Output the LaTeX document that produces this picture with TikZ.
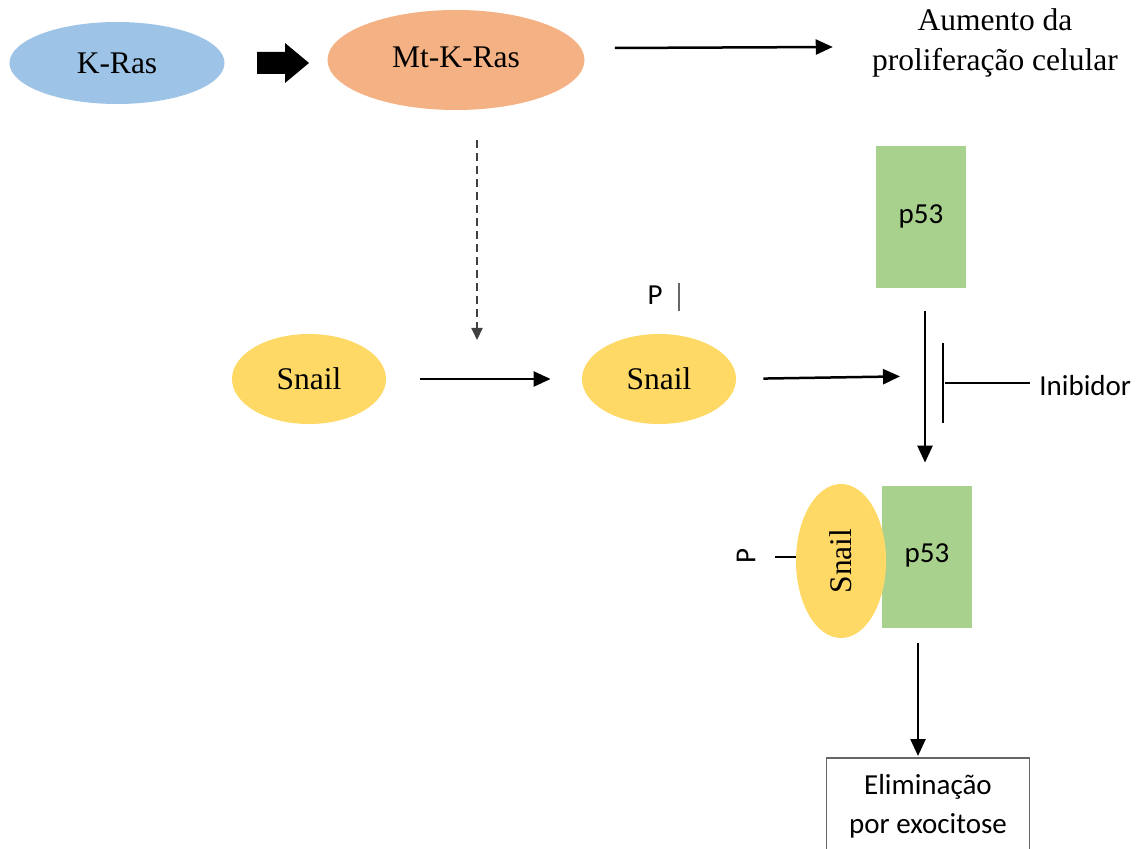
\documentclass[tikz,border=0pt]{standalone}
\usepackage{fontspec}
\setmainfont{Liberation Serif}
\newfontfamily\calibri{Carlito}
\usetikzlibrary{shapes.geometric,arrows.meta}
\definecolor{rasblue}{HTML}{9DC3E6}
\definecolor{mtorange}{HTML}{F4B183}
\definecolor{snailyellow}{HTML}{FFD966}
\definecolor{pgreen}{HTML}{A9D18E}

\begin{document}
\begin{tikzpicture}[x=0.5pt,y=-0.5pt,
  prot/.style={ellipse,inner sep=0pt,font=\fontsize{15.75}{20}\selectfont},
  box53/.style={fill=pgreen,minimum width=45pt,minimum height=71pt,inner sep=0pt,
    font=\calibri\fontsize{14.5}{17.5}\selectfont},
  lbl/.style={font=\calibri\fontsize{14.5}{19.5}\selectfont,align=center,inner sep=0pt},
  arr/.style={-{Triangle[length=8.5pt,width=7.5pt]},line width=1.25pt},
  darr/.style={-{Triangle[length=6pt,width=5.5pt]},line width=1pt,gray!50!black,
    dash pattern=on 4pt off 2.5pt}]
\useasboundingbox (0,0) rectangle (1138,849);

% top row
\node[prot,fill=rasblue,minimum width=107.5pt,minimum height=41pt] (kras) at (117,63) {K-Ras};
\node[prot,fill=mtorange,minimum width=128.5pt,minimum height=50pt] (mtkras) at (456,60) {\raisebox{2.5pt}{Mt-K-Ras}};
\fill (257,52) -- (285,52) -- (285,43) -- (309,63) -- (285,83) -- (285,74) -- (257,74) -- cycle;
\node[font=\fontsize{15.75}{20}\selectfont,align=center,inner sep=0pt] (aumento) at (995,43)
  {Aumento da\\proliferação celular};
\draw[arr] ([shift={(30,-12)}]mtkras.east) -- ([shift={(-39,4)}]aumento.west);

% snail row
\node[prot,fill=snailyellow,minimum width=77pt,minimum height=45pt] (snaila) at (309,379) {Snail};
\node[prot,fill=snailyellow,minimum width=77pt,minimum height=45pt] (snailb) at (659,379) {Snail};
\draw[arr,shorten <=17pt,shorten >=15.5pt] (snaila) -- (snailb);
\coordinate (phos) at (477,381);
\draw[darr] ([shift={(21,30)}]mtkras.south) -- ([shift={(0,-41)}]phos);
\node[lbl] (pa) at (655,295) {P};
\draw[gray!80!black,line width=0.8pt] ([shift={(24,-12)}]pa.center) -- ++(0,28);

% p53 and inhibitor
\node[box53] (p53a) at (921,217) {\raisebox{3pt}{p53}};
\coordinate (junc) at (925,376);
\draw[arr,shorten <=13.5pt,shorten >=12.5pt] (snailb.east) -- (junc);
\node[box53] (p53b) at (927,557) {\raisebox{4pt}{p53}};
\draw[arr] ([shift={(4,23)}]p53a.south) -- ([shift={(-2,-23)}]p53b.north);
\node[lbl,anchor=west] (inib) at (1039,386) {Inibidor};
\coordinate (bar) at (943,383);
\draw[line width=0.8pt] ([shift={(-9,-3)}]inib.west) -- ([shift={(2,0)}]bar);
\draw[line width=0.8pt] ([shift={(0,-40)}]bar) -- ([shift={(0,40)}]bar);

% complex
\node[prot,fill=snailyellow,rotate=90,minimum width=77pt,minimum height=45pt] (snailc) at (841,561) {Snail};
\node[lbl,rotate=90] (pb) at (746,556) {P};
\draw[line width=0.8pt] ([shift={(0,-4)}]snailc.north) -- ++(-21,0);

% elimination
\node[lbl,draw=gray!80!black,line width=0.8pt,minimum width=101.5pt,minimum height=48pt,anchor=north]
  (elim) at (928,757) {Eliminação\\por exocitose};
\draw[arr] ([shift={(-9,15)}]p53b.south) -- ([shift={(-10,-1)}]elim.north);
\end{tikzpicture}
\end{document}
